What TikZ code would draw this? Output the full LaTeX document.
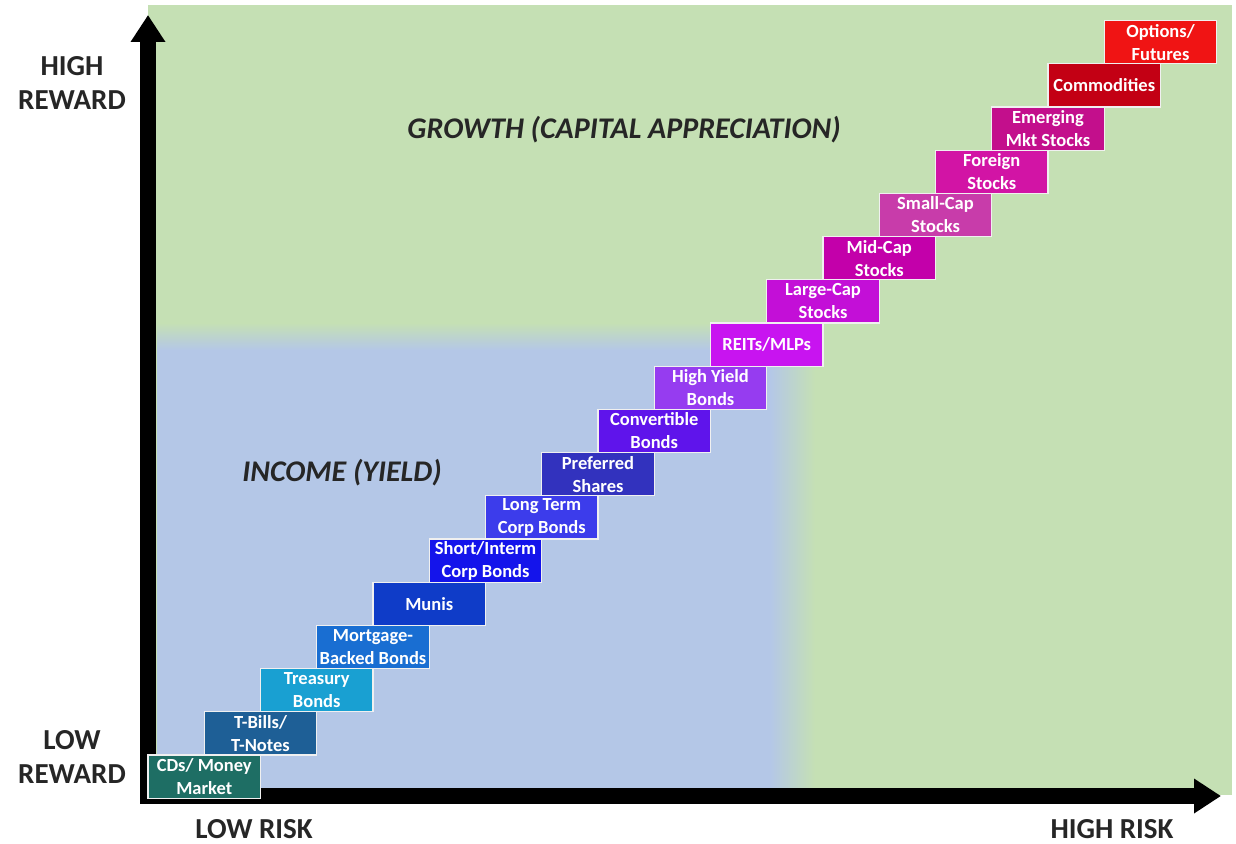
\documentclass[tikz,border=0pt]{standalone}
\usepackage{fontspec}
\setmainfont{Carlito}
\usetikzlibrary{arrows.meta}

\definecolor{growthgreen}{RGB}{197,224,180}
\definecolor{incomeblue}{RGB}{180,199,231}
\definecolor{cdcol}{RGB}{30,110,100}
\definecolor{tbillcol}{RGB}{30,95,150}
\definecolor{treascol}{RGB}{25,160,210}
\definecolor{mortcol}{RGB}{25,110,210}
\definecolor{municol}{RGB}{15,60,200}
\definecolor{shortcol}{RGB}{20,20,235}
\definecolor{longcol}{RGB}{60,60,235}
\definecolor{prefcol}{RGB}{50,50,190}
\definecolor{convcol}{RGB}{95,20,235}
\definecolor{hycol}{RGB}{150,60,240}
\definecolor{reitcol}{RGB}{200,20,240}
\definecolor{largecol}{RGB}{195,15,215}
\definecolor{midcol}{RGB}{195,0,170}
\definecolor{smallcol}{RGB}{200,60,170}
\definecolor{foreigncol}{RGB}{210,20,165}
\definecolor{emergcol}{RGB}{195,15,140}
\definecolor{commcol}{RGB}{195,0,20}
\definecolor{optcol}{RGB}{240,20,20}

\tikzset{
  asset/.style={fill=#1, draw=white!88!gray, line width=1.2pt,
    minimum width=112.5pt, minimum height=43.2pt, inner sep=0pt,
    align=center, text=white, font=\fontsize{18.5}{23}\selectfont\bfseries},
  axislabel/.style={align=center, text=black!85,
    font=\fontsize{29}{34}\selectfont\bfseries},
  zonelabel/.style={text=black!85, font=\fontsize{30}{32}\selectfont\bfseries\itshape},
  axis/.style={line width=16pt, line join=miter,
    {Triangle[width=33pt,length=27pt]}-{Triangle[width=33pt,length=27pt]}}
}

\begin{document}
\begin{tikzpicture}[x=1pt,y=-1pt]
	\useasboundingbox (0,0) rectangle (1236,843);
	% zones
	\fill[growthgreen] (148,5) rectangle (1232,795);
	\fill[incomeblue] (157,350) rectangle (770,790);
	\shade[top color=growthgreen, bottom color=incomeblue] (157,323) rectangle (770,350);
	\shade[left color=incomeblue, right color=growthgreen] (770,350) rectangle (815,790);
	\node[zonelabel] (growth) at (624,130) {GROWTH (CAPITAL APPRECIATION)};
	\node[zonelabel] (income) at (342,473) {INCOME (YIELD)};
	% axes
	\coordinate (origin) at (148,796);
	\coordinate (ytip) at (148,15);
	\coordinate (xtip) at (1221,796);
	\draw[axis] (ytip) -- (origin) -- (xtip);
	\node[axislabel] (highrew) at (72,83) {HIGH\\REWARD};
	\node[axislabel] (lowrew) at (72,757) {LOW\\REWARD};
	\node[axislabel, anchor=base, inner sep=0pt] (lowrisk) at (254,838) {LOW RISK};
	\node[axislabel, anchor=base, inner sep=0pt] (highrisk) at (1112,838) {HIGH RISK};
	% the staircase
	\node[asset=cdcol] (cds) at (204.25,776.6) {CDs/ Money\\Market};
	\node[asset=tbillcol] (tbills) at (260.5,733.4) {T-Bills/\\T-Notes};
	\node[asset=treascol] (treasury) at (316.75,690.2) {Treasury\\Bonds};
	\node[asset=mortcol] (mortgage) at (373,647) {Mortgage-\\Backed Bonds};
	\node[asset=municol] (munis) at (429.25,603.8) {Munis};
	\node[asset=shortcol] (shortcorp) at (485.5,560.6) {Short/Interm\\Corp Bonds};
	\node[asset=longcol] (longcorp) at (541.75,517.4) {Long Term\\Corp Bonds};
	\node[asset=prefcol] (preferred) at (598,474.2) {Preferred\\Shares};
	\node[asset=convcol] (convertible) at (654.25,431) {Convertible\\Bonds};
	\node[asset=hycol] (highyield) at (710.5,387.8) {High Yield\\Bonds};
	\node[asset=reitcol] (reits) at (766.75,344.6) {REITs/MLPs};
	\node[asset=largecol] (largecap) at (823,301.4) {Large-Cap\\Stocks};
	\node[asset=midcol] (midcap) at (879.25,258.2) {Mid-Cap\\Stocks};
	\node[asset=smallcol] (smallcap) at (935.5,215) {Small-Cap\\Stocks};
	\node[asset=foreigncol] (foreign) at (991.75,171.8) {Foreign\\Stocks};
	\node[asset=emergcol] (emerging) at (1048,128.6) {Emerging\\Mkt Stocks};
	\node[asset=commcol] (commodities) at (1104.25,85.4) {Commodities};
	\node[asset=optcol] (options) at (1160.5,42.2) {Options/\\Futures};
\end{tikzpicture}
\end{document}
